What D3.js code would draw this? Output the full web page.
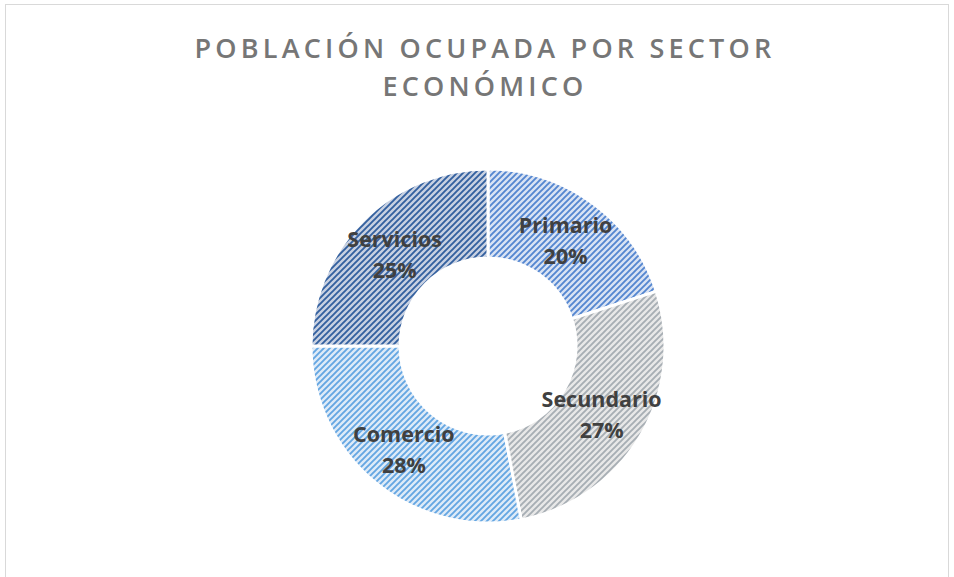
<!DOCTYPE html>
<html>
<head>
<meta charset="utf-8">
<script src="https://cdn.jsdelivr.net/npm/d3@7"></script>
<style>
  body { margin: 0; background: #fff; }
  svg { display: block; }
</style>
</head>
<body>
<svg id="chart" width="954" height="577"></svg>
<script>
// datos
const sectors = ['Primario', 'Secundario', 'Comercio', 'Servicios']
const shares = [20, 27, 28, 25]
const titleLines = ['POBLACIÓN OCUPADA POR SECTOR', 'ECONÓMICO']

// colores de trama: fondo y rayas
const bgColors = ['#d9e3f4', '#e8e8e8', '#deebf8', '#c8d1e2']
const lineColors = ['#5486d0', '#a7aeb4', '#64a6e2', '#33609f']

const svg = d3.select('#chart')
const width = 954, height = 577

// marco
svg.append('rect')
    .attr('x', 5.5).attr('y', 4.5)
    .attr('width', width - 11).attr('height', height + 10)
    .attr('fill', 'none')
    .attr('stroke', '#d9d9d9')

const defs = svg.append('defs')
sectors.forEach((s, i) => {
    const p = defs.append('pattern')
        .attr('id', 'pat' + i)
        .attr('patternUnits', 'userSpaceOnUse')
        .attr('width', 6).attr('height', 6)
    p.append('rect').attr('width', 6).attr('height', 6).attr('fill', bgColors[i])
    p.append('path')
        .attr('d', 'M-1.5,1.5 l3,-3 M0,6 l6,-6 M4.5,7.5 l3,-3')
        .attr('stroke', lineColors[i])
        .attr('stroke-width', 1.9)
})

// título
svg.append('text')
    .attr('x', 485).attr('y', 58)
    .attr('text-anchor', 'middle')
    .attr('font-family', 'Open Sans, sans-serif')
    .attr('font-size', 27)
    .attr('font-weight', 600)
    .attr('letter-spacing', 4.2)
    .attr('fill', '#767676')
    .selectAll('tspan')
    .data(titleLines)
    .enter()
    .append('tspan')
    .attr('x', 485)
    .attr('dy', (d, i) => i ? 38 : 0)
    .text(d => d)

const cx = 488, cy = 346
const outerR = 177, innerR = 88

const pie = d3.pie().sort(null).value(d => d)
const arc = d3.arc().innerRadius(innerR).outerRadius(outerR)
const labelArc = d3.arc().innerRadius(132).outerRadius(132)

const g = svg.append('g').attr('transform', `translate(${cx},${cy})`)
const arcs = pie(shares)

g.selectAll('path.slice')
    .data(arcs)
    .enter()
    .append('path')
    .classed('slice', true)
    .attr('d', arc)
    .attr('fill', (d, i) => `url(#pat${i})`)
    .attr('stroke', '#fff')
    .attr('stroke-width', 3)

const labels = g.selectAll('text.label')
    .data(arcs)
    .enter()
    .append('text')
    .classed('label', true)
    .attr('text-anchor', 'middle')
    .attr('font-family', 'Open Sans, sans-serif')
    .attr('font-weight', 700)
    .attr('font-size', 21.5)
    .attr('fill', '#404040')
    .attr('transform', d => `translate(${labelArc.centroid(d)})`)

labels.append('tspan')
    .attr('x', 0).attr('dy', -6)
    .text((d, i) => sectors[i])
labels.append('tspan')
    .attr('x', 0).attr('dy', 31)
    .text(d => d.data + '%')
</script>
</body>
</html>
